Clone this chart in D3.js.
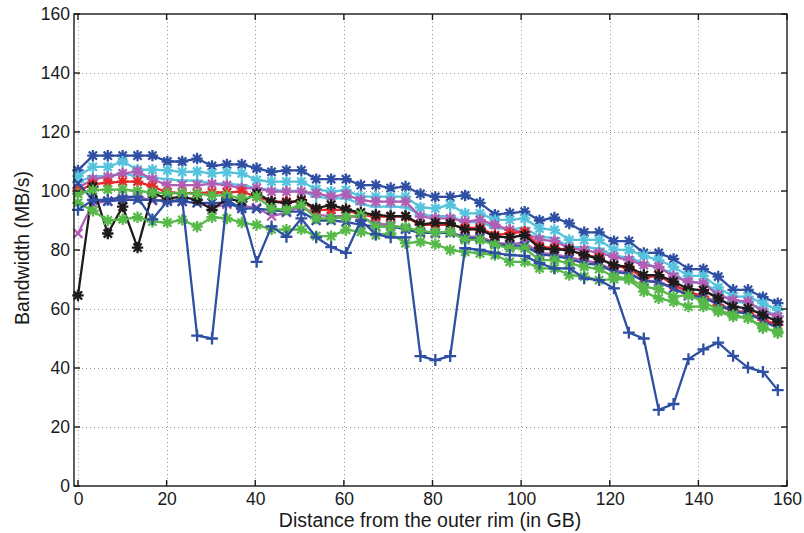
<!DOCTYPE html>
<html><head><meta charset="utf-8">
<script src="https://cdn.jsdelivr.net/npm/d3@7"></script>
<style>
html,body{margin:0;padding:0;background:#fff;}
svg{display:block;}
text{font-family:"Liberation Sans",Arial,Helvetica,sans-serif;fill:#1a1a1a;}
</style></head>
<body>
<svg id="chart" width="804" height="533"></svg>
<script>
// ---- data ----
const distanceGB = [0, 3.36, 6.72, 10.08, 13.44, 16.8, 20.16, 23.52, 26.88, 30.24, 33.6, 36.96, 40.32, 43.68, 47.04, 50.4,
  53.76, 57.12, 60.48, 63.84, 67.2, 70.56, 73.92, 77.28, 80.64, 84, 87.36, 90.72, 94.08, 97.44, 100.8, 104.16,
  107.52, 110.88, 114.24, 117.6, 120.96, 124.32, 127.68, 131.04, 134.4, 137.76, 141.12, 144.48, 147.84, 151.2, 154.56, 157.92];

const blueStar = [107, 112, 112, 112, 112, 112, 110, 110, 111, 108.5, 109, 109, 107.7, 106.5, 107, 107,
  104, 104, 104, 102, 102, 101, 101.5, 99, 98, 98, 98.5, 96, 92, 92.5, 93, 90,
  91, 89, 86, 86, 83, 83, 79, 79, 77, 73.5, 73.5, 71, 66.5, 66.5, 64, 62];
const cyanStar = [105, 108.2, 108.2, 110, 107.2, 107.2, 107, 106.5, 106.6, 106, 106.3, 106, 103.7, 103.2, 103.2, 103.2,
  100.6, 99.8, 100.3, 98.1, 98.1, 98.1, 98.1, 94.4, 94.1, 95.3, 92.4, 92.4, 90.2, 90.2, 90.7, 87.3,
  86.8, 83.4, 83.4, 83.4, 80.1, 80, 78, 76.6, 74.3, 71.2, 71.2, 67.3, 64.2, 64.2, 61.9, 59.7];
const cyanPlus = [103, 105, 105, 106, 105, 104.5, 104, 103.5, 103.5, 102.5, 102.5, 102, 101, 100.5, 100, 100,
  98, 97.5, 97.5, 95.5, 94.7, 94.7, 94.5, 92, 91.5, 91.5, 89.5, 89.5, 87.5, 87, 87.5, 84.5,
  84, 81, 81, 80.5, 78, 77.5, 75.5, 74, 72, 69, 69, 65.5, 62.5, 62, 60, 57.5];
const purpleStar = [101, 104, 104.8, 106, 106.6, 104, 102, 102, 102, 102.4, 102, 100.9, 101, 99.8, 99.8, 99.8,
  99.2, 98.1, 98.8, 96.8, 96.4, 96.4, 96.4, 91.3, 90.7, 90.7, 89.6, 90.2, 88.5, 86.8, 85.9, 83.5,
  83, 80.6, 80, 79, 77.7, 76.6, 74.9, 74.3, 71, 69.3, 68.7, 64.7, 63, 62.5, 59.1, 57.4];
const magentaX = [85.6, 95.8, 96.6, 97.5, 98, 96.7, 97, 96.4, 96, 94.4, 95.5, 94.9, 94.4, 91.5, 92.7, 94.9,
  91.9, 91.5, 91.5, 91.1, 89, 88.5, 87.3, 86.2, 85.6, 86, 84.5, 84.5, 82.5, 82, 82.5, 79,
  78.5, 77.5, 76.5, 75.5, 73, 72.5, 69.5, 69.5, 67, 65, 64.5, 62, 59.5, 59, 56.5, 54];
const redStar = [100, 102.3, 102.8, 103.2, 103.2, 101.5, 99.5, 99.3, 99.3, 99.5, 99.5, 99.8, 98.1, 96.4, 96.4, 96.4,
  93.6, 93.6, 93.6, 91.9, 91.3, 91.3, 91.3, 88.5, 88.5, 88.5, 87.5, 87.5, 85, 85.6, 86.2, 81.1,
  80.6, 80, 78.3, 77.5, 74.6, 73.8, 70.4, 71.5, 68.1, 65.9, 64.2, 61.4, 59.1, 58.6, 56.3, 54.6];
const blackStar = [64.6, 101.5, 85.6, 94.7, 80.8, 99.2, 97.5, 98, 97, 93.6, 97.5, 96.4, 99.2, 96.4, 96, 96.9,
  94.1, 95.3, 93.8, 92.7, 91.9, 91.5, 91.5, 88.7, 89.2, 89, 87, 87, 84.5, 84.3, 85, 80.6,
  80.2, 80, 78.3, 77, 74.9, 74.3, 71.5, 71.5, 69.3, 66.7, 66.4, 63.6, 60.8, 60.2, 58, 55.7];
const greenStar = [99, 100.3, 100.5, 100.5, 100, 99.5, 99.2, 99.2, 99, 98.5, 98.5, 97.5, 98.1, 94.1, 93.6, 95.3,
  90.7, 90.7, 91.1, 91.9, 87.9, 88.1, 87.7, 86.5, 86, 86.2, 83.4, 83.4, 81.7, 80.6, 80.6, 76.6,
  76.6, 75.5, 74.3, 73.5, 71, 70.4, 67.6, 66.7, 64.2, 64.7, 62.5, 59.7, 58, 56.9, 54, 51.8];
const greenStarLow = [96, 93.3, 90, 90.4, 91.1, 89.6, 89.3, 90.2, 87.9, 91.1, 90.7, 89.3, 88.5, 87, 86.9, 87,
  84.7, 84.7, 86.8, 86.2, 85, 85.6, 82.3, 82.8, 82, 80, 79.4, 78.9, 78.3, 76, 76, 73.8,
  73.8, 71.5, 71, 69.8, 70.1, 70, 65.9, 63.6, 62.5, 60.8, 60.8, 59.1, 57.4, 56.9, 53.5, 52.3];
const blueX = [102.6, 97, 96.5, 97, 97, 97, 96.5, 96.5, 96, 96, 96, 94.1, 94, 93.5, 93, 93,
  90, 90, 89.5, 88.5, 88, 88, 87, 85.8, 85.8, 85.8, 84, 84, 82, 81.5, 81.5, 78.5,
  78, 77, 75.5, 75, 72.5, 72, 69.5, 69, 67, 64.5, 64, 61.5, 59, 58.5, 56, 53.5];
const bluePlus = [93.6, 97, 97, 98, 98, 90.4, 96.5, 97, 51, 50, 97, 94, 76, 88, 84.5, 90.7,
  84.3, 81, 79, 90, 85.4, 84.3, 84.3, 44, 42.7, 44, 80.6, 80, 79, 78.3, 78, 75.5,
  73.8, 73.8, 70.4, 69.8, 67, 52, 50, 25.8, 27.8, 43, 46.3, 48.6, 44.1, 40.1, 38.7, 32.5];

const xTicks = [0, 20, 40, 60, 80, 100, 120, 140, 160];
const yTicks = [0, 20, 40, 60, 80, 100, 120, 140, 160];
const xLabel = "Distance from the outer rim (in GB)";
const yLabel = "Bandwidth (MB/s)";

// series table built from the arrays above
const COL = {blue:"#2f4fa2", cyan:"#56c3dd", purple:"#b15db3", red:"#e5282a", black:"#1e1b1c", green:"#56b949"};
const series = [
  {values: blueStar, color: COL.blue, marker: "star"},
  {values: cyanStar, color: COL.cyan, marker: "star"},
  {values: cyanPlus, color: COL.cyan, marker: "plus"},
  {values: purpleStar, color: COL.purple, marker: "star"},
  {values: magentaX, color: COL.purple, marker: "x"},
  {values: redStar, color: COL.red, marker: "star"},
  {values: blueX, color: COL.blue, marker: "x"},
  {values: blackStar, color: COL.black, marker: "star"},
  {values: greenStarLow, color: COL.green, marker: "star"},
  {values: greenStar, color: COL.green, marker: "star"},
  {values: bluePlus, color: COL.blue, marker: "plus"}
];

// ---- layout ----
const L = 74, R = 787, T = 14, B = 486;
const svg = d3.select("#chart");
const x = d3.scaleLinear().domain([-0.9, 160]).range([L, R]);
const y = d3.scaleLinear().domain([0, 160]).range([B, T]);

// grid
const grid = svg.append("g").attr("stroke", "#9a9a9a").attr("stroke-width", 1).attr("stroke-dasharray", "1,3");
grid.selectAll(".gx").data(xTicks.filter(d => d < 160)).enter().append("line")
  .attr("x1", d => Math.round(x(d)) + 0.5).attr("x2", d => Math.round(x(d)) + 0.5)
  .attr("y1", T).attr("y2", B);
grid.selectAll(".gy").data(yTicks.filter(d => d > 0 && d < 160)).enter().append("line")
  .attr("y1", d => Math.round(y(d)) + 0.5).attr("y2", d => Math.round(y(d)) + 0.5)
  .attr("x1", L).attr("x2", R);

// markers
const starSym = {draw(ctx, size) {
  const r = Math.sqrt(size) / 2, d = r * 0.72;
  ctx.moveTo(-r, 0); ctx.lineTo(r, 0); ctx.moveTo(0, -r); ctx.lineTo(0, r);
  ctx.moveTo(-d, -d); ctx.lineTo(d, d); ctx.moveTo(-d, d); ctx.lineTo(d, -d);
}};
const plusSym = {draw(ctx, size) {
  const r = Math.sqrt(size) / 2;
  ctx.moveTo(-r, 0); ctx.lineTo(r, 0); ctx.moveTo(0, -r); ctx.lineTo(0, r);
}};
const xSym = {draw(ctx, size) {
  const d = Math.sqrt(size) / 2 * 0.75;
  ctx.moveTo(-d, -d); ctx.lineTo(d, d); ctx.moveTo(-d, d); ctx.lineTo(d, -d);
}};
const symTypes = {star: starSym, plus: plusSym, x: xSym};

const plot = svg.append("g");
const line = d3.line().x((d, i) => x(distanceGB[i])).y(d => y(d));
series.forEach(s => {
  const g = plot.append("g");
  g.append("path").datum(s.values).attr("d", line)
    .attr("fill", "none").attr("stroke", s.color).attr("stroke-width", 2.3).attr("stroke-linejoin", "round");
  const sym = d3.symbol().type(symTypes[s.marker]).size(s.marker === "star" ? 130 : 140);
  g.selectAll("path.m").data(s.values).enter().append("path").attr("class", "m")
    .attr("transform", (d, i) => `translate(${x(distanceGB[i])},${y(d)})`)
    .attr("d", sym).attr("fill", "none").attr("stroke", s.color).attr("stroke-width", 2.3);
});

// axes box
const ax = svg.append("g").attr("stroke", "#1a1a1a").attr("stroke-width", 1.4).attr("fill", "none");
ax.append("rect").attr("x", L).attr("y", T).attr("width", R - L).attr("height", B - T);
// ticks (inside, both sides)
const tl = 6;
xTicks.forEach(t => {
  const px = x(t);
  ax.append("line").attr("x1", px).attr("x2", px).attr("y1", B).attr("y2", B - tl);
  ax.append("line").attr("x1", px).attr("x2", px).attr("y1", T).attr("y2", T + tl);
});
yTicks.forEach(t => {
  const py = y(t);
  ax.append("line").attr("y1", py).attr("y2", py).attr("x1", L).attr("x2", L + tl);
  ax.append("line").attr("y1", py).attr("y2", py).attr("x1", R).attr("x2", R - tl);
});

// tick labels via d3 axes (ticks hidden, labels kept)
const FS_TICK = 17.5, FS_LAB = 19.5;
const xAxis = d3.axisBottom(x).tickValues(xTicks).tickSize(0).tickPadding(6.5).tickFormat(d3.format("d"));
const gx = svg.append("g").attr("transform", `translate(0,${B})`).call(xAxis);
gx.select(".domain").remove();
gx.selectAll("text").attr("font-size", FS_TICK).attr("font-family", "Liberation Sans, Arial, sans-serif").attr("fill", "#1a1a1a");

const yAxis = d3.axisLeft(y).tickValues(yTicks).tickSize(0).tickPadding(4).tickFormat(d3.format("d"));
const gy = svg.append("g").attr("transform", `translate(${L},0)`).call(yAxis);
gy.select(".domain").remove();
gy.selectAll("text").attr("font-size", FS_TICK).attr("font-family", "Liberation Sans, Arial, sans-serif").attr("fill", "#1a1a1a");

svg.append("text").attr("x", 430).attr("y", 527).attr("text-anchor", "middle")
  .attr("font-size", FS_LAB).text(xLabel);
svg.append("text").attr("transform", `translate(29,248) rotate(-90)`).attr("text-anchor", "middle")
  .attr("font-size", FS_LAB).text(yLabel);
</script>
</body></html>
